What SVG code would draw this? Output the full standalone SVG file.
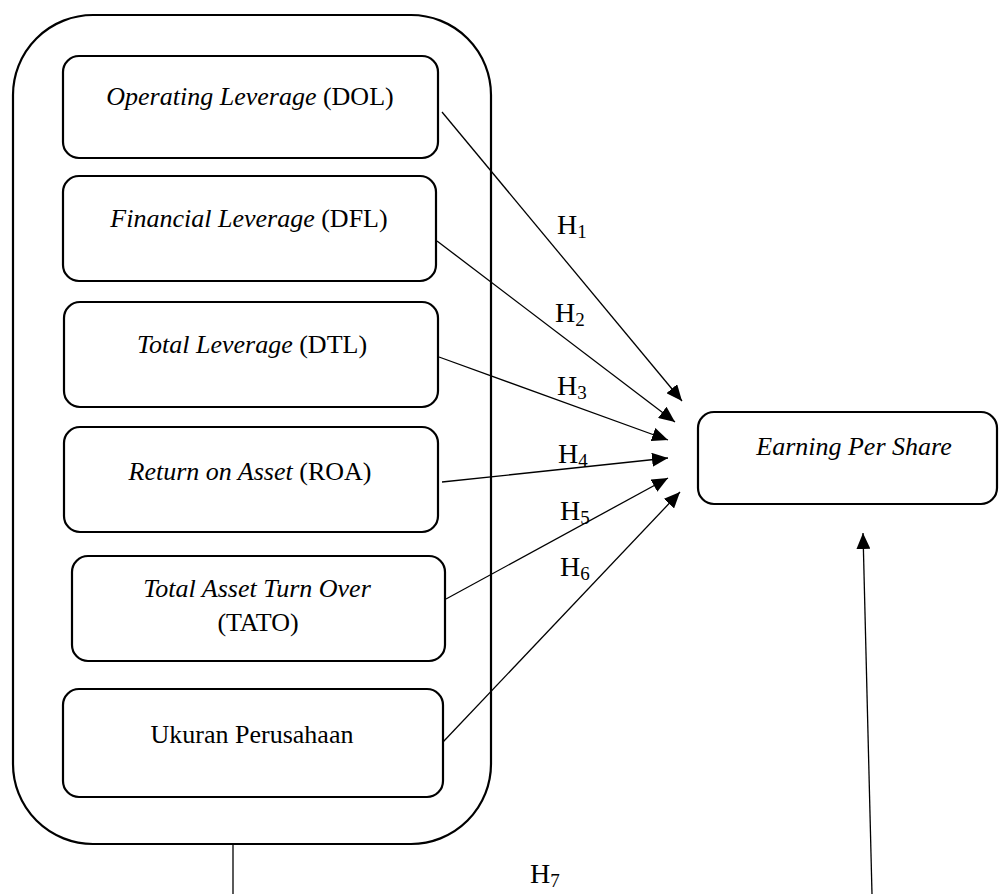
<svg xmlns="http://www.w3.org/2000/svg" width="999" height="894" viewBox="0 0 999 894">
<style>
.box{fill:#fff;stroke:#000;stroke-width:2.2}
.t{font-family:"Liberation Serif","Times New Roman",serif;font-size:26px;fill:#000;text-anchor:middle}
.i{font-style:italic}
.h{font-family:"Liberation Serif","Times New Roman",serif;font-size:28px;fill:#000}
.sub{font-size:19px}
.c{stroke:#000;stroke-width:1.3;fill:none}
.ca{stroke:#000;stroke-width:1.3;fill:none;marker-end:url(#ah)}
</style>
<defs>
<marker id="ah" viewBox="0 0 16 14" refX="16" refY="7" markerWidth="16" markerHeight="14" markerUnits="userSpaceOnUse" orient="auto">
<path d="M0,0 L16,7 L0,14 z" fill="#000"/>
</marker>
</defs>
<rect width="999" height="894" fill="#fff"/>
<g id="outer">
<rect class="box" x="13" y="15" width="478" height="829" rx="80" ry="80"/>
</g>
<g id="dol">
<rect class="box" x="63" y="56" width="375" height="102" rx="16"/>
<text class="t" x="250" y="105"><tspan class="i">Operating Leverage</tspan> (DOL)</text>
</g>
<g id="dfl">
<rect class="box" x="63" y="176" width="373" height="105" rx="16"/>
<text class="t" x="249" y="227"><tspan class="i">Financial Leverage</tspan> (DFL)</text>
</g>
<g id="dtl">
<rect class="box" x="64" y="302" width="374" height="105" rx="16"/>
<text class="t" x="252" y="353"><tspan class="i">Total Leverage</tspan> (DTL)</text>
</g>
<g id="roa">
<rect class="box" x="64" y="427" width="374" height="105" rx="16"/>
<text class="t" x="250" y="480"><tspan class="i">Return on Asset</tspan> (ROA)</text>
</g>
<g id="tato">
<rect class="box" x="72" y="556" width="373" height="105" rx="16"/>
<text class="t i" x="257" y="597">Total Asset Turn Over</text>
<text class="t" x="258" y="631">(TATO)</text>
</g>
<g id="ukuran">
<rect class="box" x="63" y="689" width="380" height="108" rx="16"/>
<text class="t" x="252" y="743">Ukuran Perusahaan</text>
</g>
<g id="eps">
<rect class="box" x="698" y="412" width="299" height="92" rx="16"/>
<text class="t i" x="854" y="455">Earning Per Share</text>
</g>
<g id="connectors">
<line class="ca" x1="442" y1="112" x2="682" y2="401"/>
<line class="ca" x1="437" y1="241" x2="675" y2="422"/>
<line class="ca" x1="439" y1="357" x2="668" y2="440"/>
<line class="ca" x1="442" y1="482" x2="668" y2="458"/>
<line class="ca" x1="446" y1="599" x2="668" y2="478"/>
<line class="ca" x1="443" y1="742" x2="680" y2="492"/>
<line class="ca" x1="872" y1="894" x2="863" y2="533"/>
<line class="c" x1="233" y1="844" x2="233" y2="894"/>
</g>
<g id="labels">
<text class="h" x="557" y="234">H<tspan class="sub" dy="4">1</tspan></text>
<text class="h" x="555" y="322">H<tspan class="sub" dy="4">2</tspan></text>
<text class="h" x="557" y="395">H<tspan class="sub" dy="4">3</tspan></text>
<text class="h" x="558" y="463">H<tspan class="sub" dy="4">4</tspan></text>
<text class="h" x="560" y="520">H<tspan class="sub" dy="4">5</tspan></text>
<text class="h" x="560" y="576">H<tspan class="sub" dy="4">6</tspan></text>
<text class="h" x="530" y="883">H<tspan class="sub" dy="4">7</tspan></text>
</g>
</svg>
